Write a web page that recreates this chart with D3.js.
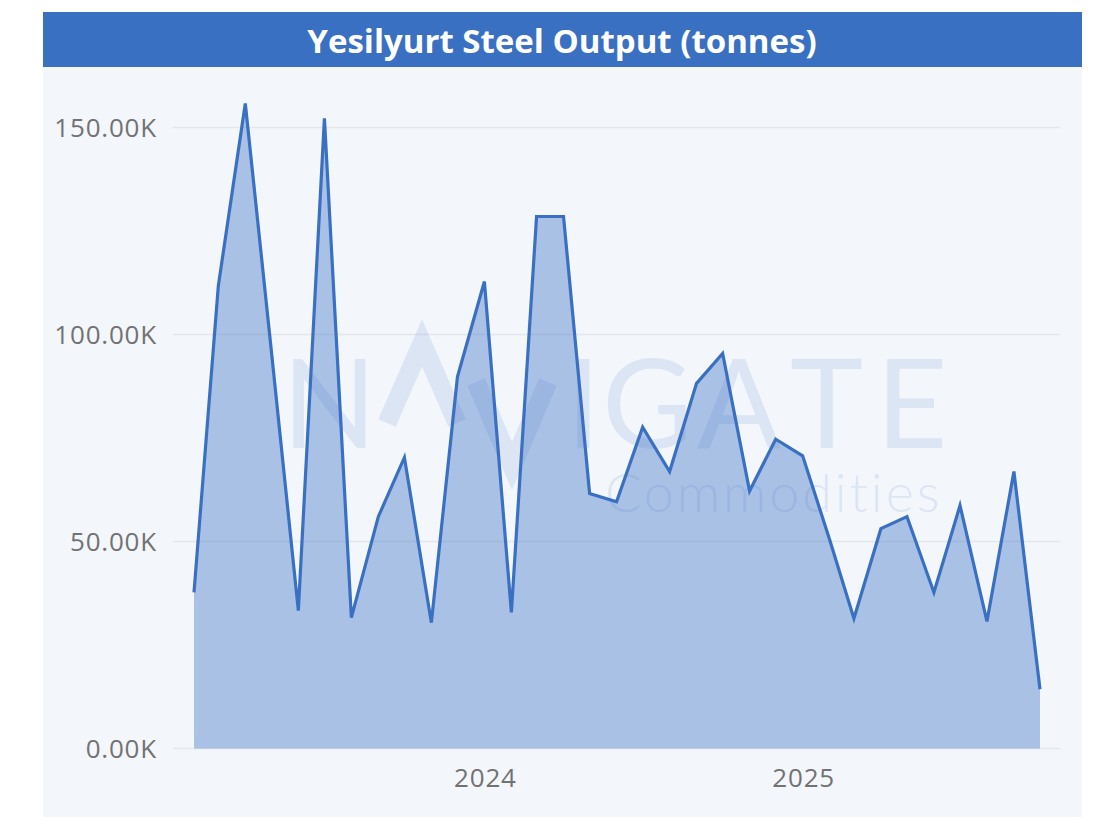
<!DOCTYPE html>
<html>
<head>
<meta charset="utf-8">
<script src="https://cdn.jsdelivr.net/npm/d3@7"></script>
<style>
  html, body { margin: 0; padding: 0; background: #ffffff; }
  svg { display: block; }
</style>
</head>
<body>
<svg id="chart" width="1104" height="824"></svg>
<script>
// ---- data ----
const months = [
  "2023-02","2023-03","2023-04","2023-05","2023-06","2023-07","2023-08","2023-09","2023-10","2023-11","2023-12",
  "2024-01","2024-02","2024-03","2024-04","2024-05","2024-06","2024-07","2024-08","2024-09","2024-10","2024-11","2024-12",
  "2025-01","2025-02","2025-03","2025-04","2025-05","2025-06","2025-07","2025-08","2025-09","2025-10"
];
const output = [
  37700, 111800, 155800, 96000, 33300, 152200, 31600, 56000, 70300, 30400, 89800,
  112800, 32900, 128500, 128500, 61600, 59600, 77600, 66900, 88200, 95400, 62200, 74700,
  70700, 50500, 31400, 53100, 56000, 37700, 58700, 30700, 66900, 14300
];
const yTicks = [0, 50000, 100000, 150000];
const xTickYears = ["2024", "2025"];
const titleText = "Yesilyurt Steel Output (tonnes)";

// ---- layout ----
const svg = d3.select("#chart");
const panel = { x: 43, y: 12, w: 1039, h: 805 };
const titleH = 55;
const lineColor = "#3a70c2";

svg.append("rect").attr("x", panel.x).attr("y", panel.y).attr("width", panel.w).attr("height", panel.h)
  .attr("fill", "#f3f7fc");
svg.append("rect").attr("x", panel.x).attr("y", panel.y).attr("width", panel.w).attr("height", titleH)
  .attr("fill", lineColor);
svg.append("text").attr("x", 562).attr("y", panel.y + titleH / 2 + 1)
  .attr("text-anchor", "middle").attr("dominant-baseline", "central")
  .attr("font-family", "'Open Sans', sans-serif").attr("font-weight", 700).attr("font-size", 33)
  .attr("fill", "#ffffff").text(titleText);

const parse = d3.timeParse("%Y-%m");
const data = months.map((m, i) => ({ date: parse(m), value: output[i] }));

const x = d3.scaleTime().domain(d3.extent(data, d => d.date)).range([194, 1040]);
const y = d3.scaleLinear().domain([0, 150000]).range([748.5, 127.5]);

// gridlines
const gridX0 = 173, gridX1 = 1060;
svg.append("g").selectAll("line").data(yTicks).join("line")
  .attr("x1", gridX0).attr("x2", gridX1)
  .attr("y1", d => y(d)).attr("y2", d => y(d))
  .attr("stroke", "#e4e6ea").attr("stroke-width", 1.5);

const labelFont = { family: "'Open Sans', sans-serif", size: 26, spacing: 0.8, color: "#727272" };

// y labels
svg.append("g").selectAll("text").data(yTicks).join("text")
  .attr("x", 157).attr("y", d => y(d)).attr("dy", "0.35em")
  .attr("text-anchor", "end")
  .attr("font-family", labelFont.family).attr("font-size", labelFont.size)
  .attr("letter-spacing", labelFont.spacing)
  .attr("fill", labelFont.color)
  .text(d => (d / 1000).toFixed(2) + "K");

// x labels
const xTicks = xTickYears.map(s => d3.timeParse("%Y")(s));
svg.append("g").selectAll("text").data(xTicks).join("text")
  .attr("x", d => x(d) + 1).attr("y", 778).attr("dy", "0.35em")
  .attr("text-anchor", "middle")
  .attr("font-family", labelFont.family).attr("font-size", labelFont.size)
  .attr("letter-spacing", labelFont.spacing)
  .attr("fill", labelFont.color)
  .text(d3.timeFormat("%Y"));

// area + line
const area = d3.area().x(d => x(d.date)).y0(y(0)).y1(d => y(d.value));
const line = d3.line().x(d => x(d.date)).y(d => y(d.value));
svg.append("path").datum(data).attr("d", area)
  .attr("fill", lineColor).attr("fill-opacity", 0.4);
svg.append("path").datum(data).attr("d", line)
  .attr("fill", "none").attr("stroke", lineColor).attr("stroke-width", 3.2)
  .attr("stroke-linejoin", "miter");

// watermark
const wm = svg.append("g").attr("fill", lineColor).attr("fill-opacity", 0.13)
  .attr("font-family", "Lato, 'Open Sans', sans-serif");
const wmLetters = [
  { t: "N", x: 282 }, { t: "I", x: 566 }, { t: "G", x: 602 }, { t: "A", x: 697 }, { t: "T", x: 790 }, { t: "E", x: 876 }
];
wm.selectAll("text.wl").data(wmLetters).join("text").attr("class", "wl")
  .attr("x", d => d.x).attr("y", 448).attr("font-size", 124).attr("font-weight", 400)
  .text(d => d.t);
wm.append("path").attr("d", "M 387 423 L 422 343 L 457 423")
  .attr("fill", "none").attr("stroke", lineColor).attr("stroke-opacity", 0.13).attr("stroke-width", 19);
wm.append("path").attr("d", "M 476 382 L 512 466 L 548 382")
  .attr("fill", "none").attr("stroke", lineColor).attr("stroke-opacity", 0.13).attr("stroke-width", 19);
wm.append("text").attr("x", 605).attr("y", 512).attr("font-size", 54).attr("font-weight", 300)
  .attr("letter-spacing", 2.8)
  .text("Commodities");
</script>
</body>
</html>
